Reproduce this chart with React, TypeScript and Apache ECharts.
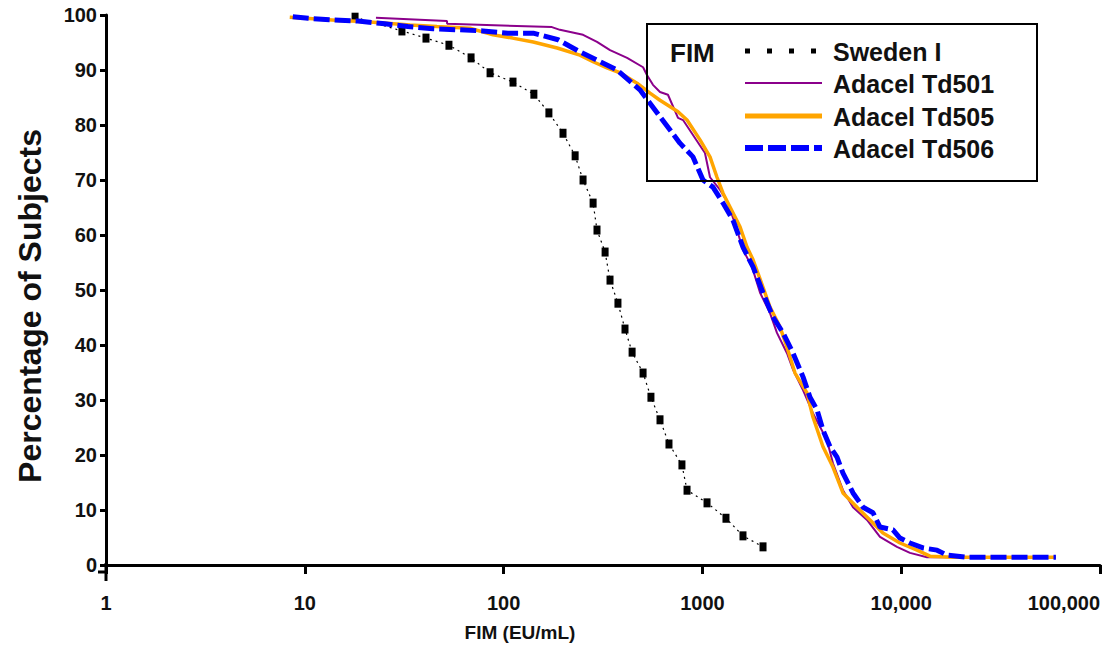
import React, { useEffect, useRef } from "react";
import * as echarts from "echarts";

// ---- Data ----
const xTickLabels = ["1", "10", "100", "1000", "10,000", "100,000"];
const yTicks = [0, 10, 20, 30, 40, 50, 60, 70, 80, 90, 100];

const swedenX = [17.9, 30.8, 40.7, 53.1, 68.6, 85.5, 111.5, 142, 169, 199, 229, 251, 282, 295, 324, 343, 376, 408, 443, 503, 551, 612, 679, 789, 837, 1055, 1314, 1600, 2018];
const swedenY = [99.6, 97.1, 95.8, 94.5, 92.2, 89.5, 87.8, 85.6, 82.2, 78.5, 74.4, 70.0, 65.8, 60.9, 56.9, 51.8, 47.6, 42.9, 38.7, 34.9, 30.5, 26.4, 22.0, 18.2, 13.6, 11.3, 8.5, 5.3, 3.3];

const td501X = [22.8, 51.9, 52, 175, 192, 251, 295, 343, 418, 503, 526, 564, 612, 671, 754, 799, 1030, 1092, 1227, 1346, 1494, 1600, 1777, 1950, 2188, 2372, 2664, 2858, 3207, 3598, 4233, 4536, 5094, 5723, 6730, 7820, 9520, 11070, 13480, 16230, 60000];
const td501Y = [99.5, 98.9, 98.4, 97.8, 97.3, 96.4, 95.1, 93.6, 92.2, 90.5, 89.1, 87.3, 86.0, 85.5, 81.3, 80.9, 74.9, 70.5, 68.2, 65.8, 60.9, 57.3, 54.2, 49.5, 45.8, 42.2, 38.5, 35.5, 31.8, 27.6, 22.7, 18.5, 13.6, 10.5, 8.2, 5.1, 3.3, 2.2, 1.4, 1.4, 1.4];

const td505X = [8.4, 15.0, 19.6, 25.9, 33.8, 46.2, 67.8, 82.5, 88.4, 111, 141, 186, 242, 282, 331, 385, 469, 545, 612, 754, 837, 973, 1092, 1184, 1270, 1377, 1546, 1676, 1798, 2018, 2188, 2455, 2664, 2923, 3358, 3598, 4043, 4536, 5094, 5994, 6966, 8093, 9860, 12020, 13960, 18230, 60000];
const td505Y = [99.6, 99.0, 98.8, 98.5, 98.2, 97.9, 97.6, 96.7, 96.4, 95.8, 95.1, 94.0, 92.7, 91.5, 90.4, 89.5, 87.6, 85.8, 84.5, 82.4, 80.9, 77.3, 74.2, 70.5, 67.6, 65.1, 61.5, 57.8, 55.5, 50.5, 46.9, 43.3, 39.6, 34.9, 31.3, 26.9, 21.5, 17.8, 13.1, 10.5, 8.2, 5.8, 4.0, 2.7, 1.6, 1.4, 1.4];

const td506X = [8.7, 10.4, 13.9, 18.5, 25.3, 33.0, 44.2, 60.4, 78.7, 105, 141, 188, 242, 372, 485, 612, 771, 897, 1007, 1130, 1270, 1425, 1600, 1798, 2018, 2264, 2545, 2858, 3207, 3477, 3773, 4043, 4385, 4754, 5094, 5723, 6430, 7215, 7820, 9090, 9860, 11070, 12880, 15140, 16990, 21430, 60000];
const td506Y = [99.7, 99.4, 99.1, 98.9, 98.4, 97.9, 97.5, 97.3, 97.1, 96.7, 96.7, 95.5, 93.3, 90.0, 86.4, 81.5, 76.7, 74.2, 70.0, 68.7, 65.8, 62.7, 57.8, 54.2, 49.5, 45.1, 42.2, 38.5, 34.2, 30.5, 28.2, 24.5, 21.5, 19.6, 16.7, 13.1, 10.5, 9.5, 6.9, 6.4, 4.9, 4.0, 3.1, 2.7, 1.8, 1.4, 1.4];

const seriesNames = ["Sweden I", "Adacel Td501", "Adacel Td505", "Adacel Td506"];
const legendTitle = "FIM";
const xAxisTitle = "FIM (EU/mL)";
const yAxisTitle = "Percentage of Subjects";

const pairs = (xs: number[], ys: number[]) => xs.map((x, i) => [x, ys[i]]);

const FONT = "'Liberation Sans', Arial, Helvetica, sans-serif";

export default function App() {
  const ref = useRef<HTMLDivElement>(null);

  useEffect(() => {
    if (!ref.current) return;
    const chart = echarts.init(ref.current, undefined, { renderer: "svg" });

    const legendRows = [51, 83, 116, 148];
    const lx0 = 745;
    const lx1 = 822;
    const legendGraphics: any[] = [
      {
        type: "rect",
        shape: { x: 647, y: 24, width: 390, height: 157 },
        style: { fill: "none", stroke: "#000", lineWidth: 2 },
        z: 100,
      },
      {
        type: "text",
        x: 670,
        y: 53,
        style: { text: legendTitle, font: `bold 26px ${FONT}`, fill: "#111", verticalAlign: "middle" },
        z: 100,
      },
      {
        type: "line",
        shape: { x1: lx0, y1: legendRows[0], x2: lx1, y2: legendRows[0] },
        style: { stroke: "#000", lineWidth: 5, lineDash: [5, 17] },
        z: 100,
      },
      {
        type: "line",
        shape: { x1: lx0, y1: legendRows[1], x2: lx1, y2: legendRows[1] },
        style: { stroke: "#8B008B", lineWidth: 2 },
        z: 100,
      },
      {
        type: "line",
        shape: { x1: lx0, y1: legendRows[2], x2: lx1, y2: legendRows[2] },
        style: { stroke: "#FFA500", lineWidth: 5 },
        z: 100,
      },
      {
        type: "line",
        shape: { x1: lx0, y1: legendRows[3], x2: lx1, y2: legendRows[3] },
        style: { stroke: "#0000FF", lineWidth: 6, lineDash: [18, 5] },
        z: 100,
      },
      ...seriesNames.map((n, i) => ({
        type: "text",
        x: 833,
        y: legendRows[i] + 1,
        style: { text: n, font: `bold 25px ${FONT}`, fill: "#111", verticalAlign: "middle" },
        z: 100,
      })),
    ];

    const axisGraphics: any[] = [
      {
        type: "line",
        shape: { x1: 106, y1: 563, x2: 106, y2: 581 },
        style: { stroke: "#000", lineWidth: 3 },
        z: 100,
      },
      {
        type: "line",
        shape: { x1: 98, y1: 572, x2: 107, y2: 572 },
        style: { stroke: "#000", lineWidth: 3 },
        z: 100,
      },
      {
        type: "text",
        x: 520,
        y: 632,
        style: { text: xAxisTitle, font: `bold 19px ${FONT}`, fill: "#111", align: "center", verticalAlign: "middle" },
        z: 100,
      },
      {
        type: "text",
        x: 30,
        y: 306,
        rotation: Math.PI / 2,
        style: { text: yAxisTitle, font: `bold 32px ${FONT}`, fill: "#111", align: "center", verticalAlign: "middle" },
        z: 100,
      },
    ];

    chart.setOption({
      animation: false,
      backgroundColor: "#fff",
      grid: { left: 106, right: 12, top: 15, bottom: 82, containLabel: false, outerBoundsMode: "none" },
      xAxis: {
        type: "log",
        logBase: 10,
        min: 1,
        max: 100000,
        offset: 7,
        axisLine: { show: true, lineStyle: { color: "#000", width: 3 } },
        axisTick: { show: true, length: 9, lineStyle: { color: "#000", width: 3 } },
        minorTick: { show: false },
        splitLine: { show: false },
        axisLabel: {
          margin: 21,
          color: "#111",
          fontFamily: FONT,
          fontWeight: "bold",
          fontSize: 20,
          alignMaxLabel: "right",
          formatter: (v: number) => xTickLabels[Math.round(Math.log10(v))] ?? "",
        },
      },
      yAxis: {
        type: "value",
        min: yTicks[0],
        max: yTicks[yTicks.length - 1],
        interval: 10,
        axisLine: { show: true, lineStyle: { color: "#000", width: 3 } },
        axisTick: { show: true, length: 6, lineStyle: { color: "#000", width: 3 } },
        splitLine: { show: false },
        axisLabel: {
          margin: 9,
          color: "#111",
          fontFamily: FONT,
          fontWeight: "bold",
          fontSize: 20,
        },
      },
      series: [
        {
          name: seriesNames[0],
          type: "line",
          data: pairs(swedenX, swedenY),
          symbol: "rect",
          symbolSize: [7, 9],
          itemStyle: { color: "#000" },
          lineStyle: { color: "#000", width: 1.2, type: [2, 4] },
          z: 2,
        },
        {
          name: seriesNames[1],
          type: "line",
          data: pairs(td501X, td501Y),
          showSymbol: false,
          symbol: "none",
          lineStyle: { color: "#8B008B", width: 2 },
          z: 3,
        },
        {
          name: seriesNames[2],
          type: "line",
          data: pairs(td505X, td505Y),
          showSymbol: false,
          symbol: "none",
          lineStyle: { color: "#FFA500", width: 3.5 },
          z: 4,
        },
        {
          name: seriesNames[3],
          type: "line",
          data: pairs(td506X, td506Y),
          showSymbol: false,
          symbol: "none",
          lineStyle: { color: "#0000FF", width: 5, type: [16, 5] },
          z: 5,
        },
      ],
      graphic: [...axisGraphics, ...legendGraphics],
    });

    return () => chart.dispose();
  }, []);

  return (
    <div
      ref={ref}
      style={{ position: "fixed", left: 0, top: 0, width: 1112, height: 647, background: "#fff" }}
    />
  );
}
